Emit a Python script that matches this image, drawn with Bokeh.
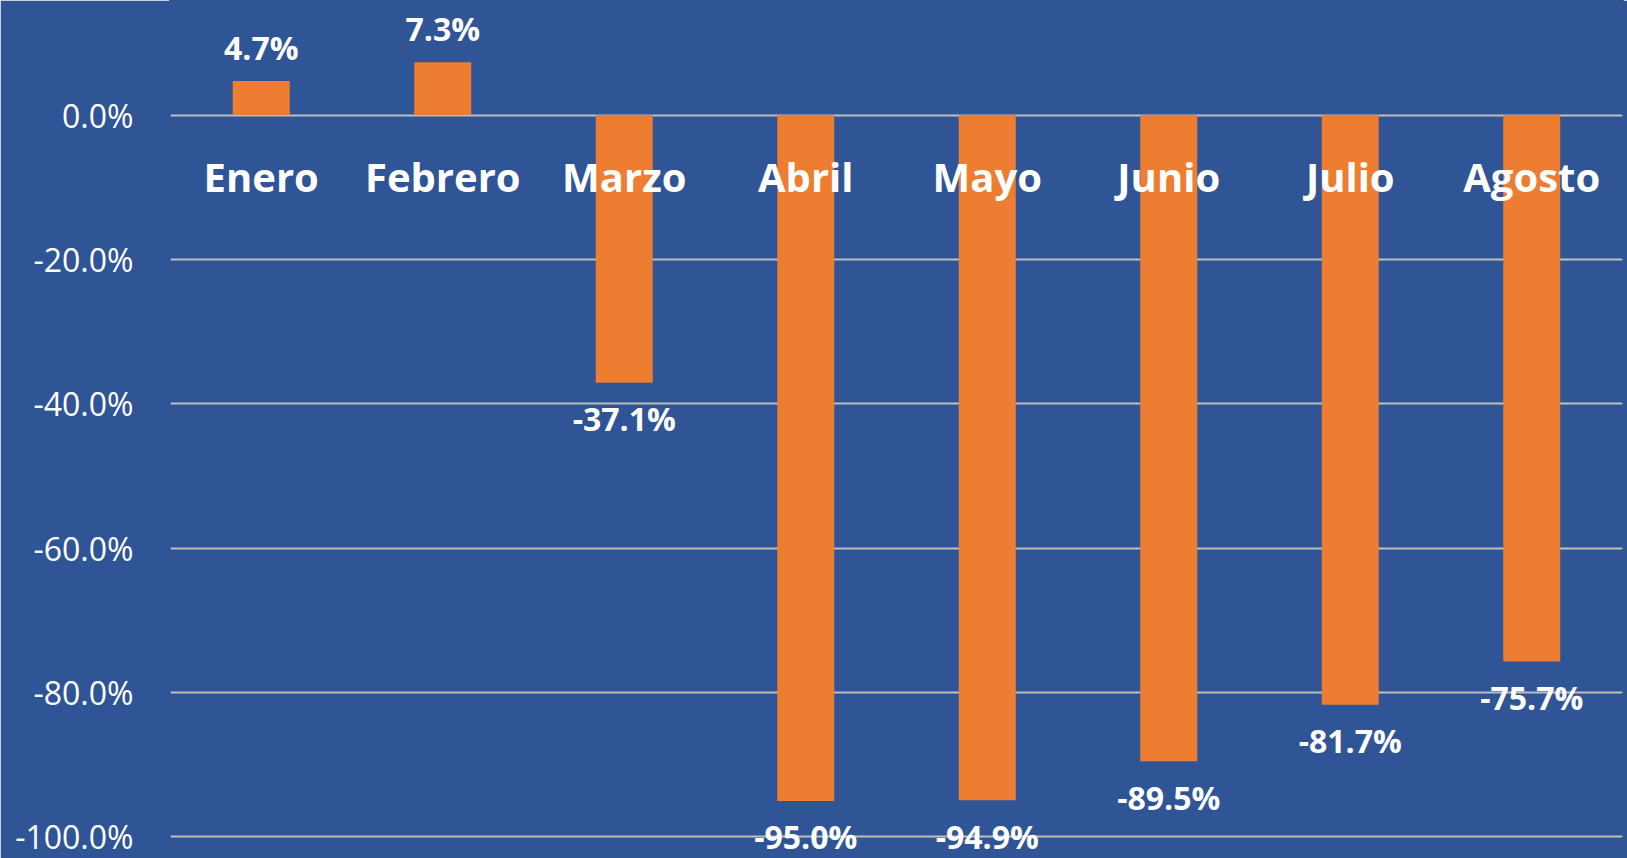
from bokeh.plotting import figure
from bokeh.models import ColumnDataSource, Range1d, FactorRange, FixedTicker, PrintfTickFormatter
from bokeh.embed import file_html
from bokeh.resources import INLINE
from bokeh.core.properties import value

months = ["Enero", "Febrero", "Marzo", "Abril", "Mayo", "Junio", "Julio", "Agosto"]
changes = [4.7, 7.3, -37.1, -95.0, -94.9, -89.5, -81.7, -75.7]
y_ticks = [0, -20, -40, -60, -80, -100]

BG = "#2F5597"
BAR = "#ED7D31"
FONT = "Open Sans"

labels = [f"{v:.1f}%" for v in changes]
offsets = [-34 if v >= 0 else 36 for v in changes]

src = ColumnDataSource(dict(month=months, change=changes, label=labels, off=offsets,
                            zero=[0] * len(months)))

p = figure(width=1627, height=858, x_range=FactorRange(*months, range_padding=0),
           y_range=Range1d(-102.98, 15.86), output_backend="svg", toolbar_location=None,
           min_border_left=170, min_border_right=5, min_border_top=0, min_border_bottom=0)

p.background_fill_color = BG
p.border_fill_color = BG
p.outline_line_color = BG
p.outline_line_width = 3

p.vbar(x="month", top="change", bottom=0, width=0.314, source=src,
       fill_color=BAR, line_color=None)

p.text(x="month", y="change", text="label", y_offset="off", source=src,
       text_align="center", text_baseline="middle", text_color="white",
       text_font=value(FONT), text_font_style="bold", text_font_size="32px")

p.text(x="month", y="zero", text="month", y_offset=61, source=src,
       text_align="center", text_baseline="middle", text_color="white",
       text_font=value(FONT), text_font_style="bold", text_font_size="40px")

p.xaxis.visible = False
p.xgrid.visible = False

p.yaxis.ticker = FixedTicker(ticks=y_ticks)
p.yaxis.formatter = PrintfTickFormatter(format="%.1f%%")
p.yaxis.axis_line_color = None
p.yaxis.major_tick_line_color = None
p.yaxis.minor_tick_line_color = None
p.yaxis.major_tick_out = 0
p.yaxis.major_tick_in = 0
p.yaxis.major_label_standoff = 37
p.yaxis.major_label_text_color = "white"
p.yaxis.major_label_text_font = FONT
p.yaxis.major_label_text_font_size = "32px"

p.ygrid.ticker = FixedTicker(ticks=y_ticks)
p.ygrid.grid_line_color = "#BFBFBF"
p.ygrid.grid_line_width = 2

open("out.html", "w").write(file_html(p, INLINE))
